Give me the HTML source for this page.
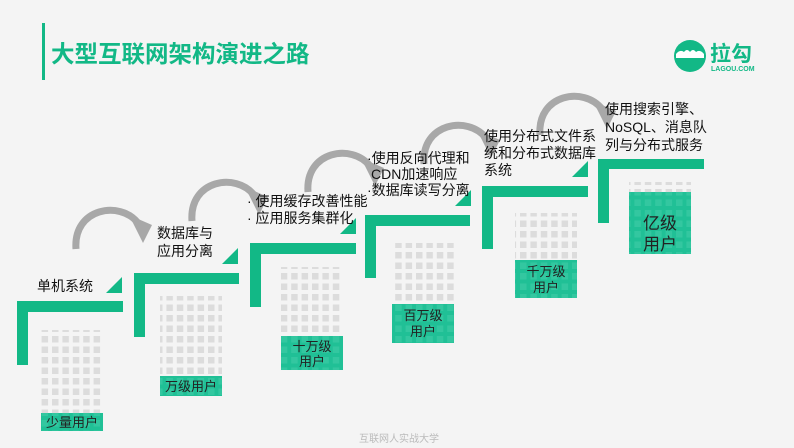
<!DOCTYPE html>
<html><head><meta charset="utf-8"><style>
html,body{margin:0;padding:0;background:#f4f4f4;}
svg{display:block;}
text{font-family:"Liberation Sans","Noto Sans CJK SC",sans-serif;}
</style></head><body>
<svg width="794" height="448" viewBox="0 0 794 448" xmlns="http://www.w3.org/2000/svg">
<defs>
<pattern id="g" x="0" y="0" width="10.4" height="10.5" patternUnits="userSpaceOnUse">
<rect x="0" y="0" width="6.5" height="6.5" fill="#dcdcdc"/>
</pattern>
<pattern id="gg" x="0" y="0" width="10.4" height="10.5" patternUnits="userSpaceOnUse">
<rect width="10.4" height="10.5" fill="#20c096"/>
<rect x="0" y="0" width="6.5" height="6.5" fill="#33c7a0"/>
</pattern>
<g id="arr">
<path d="M76,249 C73,208 120,200 138,223" fill="none" stroke="#a8a8a8" stroke-width="7"/>
<polygon points="129,215 152,225 143,243" fill="#a8a8a8"/>
</g>
</defs>
<rect width="794" height="448" fill="#f4f4f4"/>
<rect x="42" y="23" width="3" height="57" fill="#12b886"/>
<text x="51" y="62" font-size="23.5" font-weight="bold" fill="#12b886">大型互联网架构演进之路</text>
<circle cx="690" cy="56" r="16" fill="#12b886"/>
<path d="M676,54 Q680,49 684,52 Q687,48 690,52 Q693,48 696,52 Q700,49 704,54 L704,58 L676,58 Z" fill="#fff"/>
<text x="710" y="61" font-size="21" font-weight="bold" fill="#12b886">拉勾</text>
<text x="711" y="71" font-size="7" font-weight="bold" fill="#12b886">LAGOU.COM</text>

<use href="#arr"/>
<use href="#arr" transform="translate(116,-28)"/>
<use href="#arr" transform="translate(232,-57)"/>
<use href="#arr" transform="translate(348,-85)"/>
<use href="#arr" transform="translate(464,-114)"/>

<g fill="#12b886">
<rect x="17" y="301" width="106" height="11"/><rect x="17" y="301" width="11" height="64"/>
<rect x="134" y="273" width="105" height="11"/><rect x="134" y="273" width="11" height="64"/>
<rect x="250" y="243" width="106" height="11"/><rect x="250" y="243" width="11" height="64"/>
<rect x="365" y="215" width="105" height="11"/><rect x="365" y="215" width="11" height="63"/>
<rect x="482" y="186" width="106" height="11"/><rect x="482" y="186" width="11" height="63"/>
<rect x="598" y="159" width="106" height="10"/><rect x="598" y="159" width="11" height="64"/>
<polygon points="106,293 122,293 122,277"/>
<polygon points="222,264 238,264 238,248"/>
<polygon points="340,234 356,234 356,218"/>
<polygon points="455,206 471,206 471,190"/>
<polygon points="572,177 588,177 588,161"/>
</g>

<rect x="41" y="330" width="62" height="83" fill="url(#g)"/>
<rect x="41" y="413" width="62" height="18" fill="url(#gg)"/>
<rect x="160" y="296" width="62" height="80" fill="url(#g)"/>
<rect x="160" y="376" width="62" height="20" fill="url(#gg)"/>
<rect x="281" y="267" width="62" height="69" fill="url(#g)"/>
<rect x="281" y="336" width="62" height="34" fill="url(#gg)"/>
<rect x="392" y="243" width="62" height="61" fill="url(#g)"/>
<rect x="392" y="304" width="62" height="39" fill="url(#gg)"/>
<rect x="515" y="213" width="62" height="47" fill="url(#g)"/>
<rect x="515" y="260" width="62" height="38" fill="url(#gg)"/>
<rect x="629" y="182" width="62" height="10" fill="url(#g)"/>
<rect x="629" y="192" width="62" height="62" fill="url(#gg)"/>

<g fill="#222" font-size="13" text-anchor="middle">
<text x="72" y="427">少量用户</text>
<text x="191" y="391">万级用户</text>
<text x="312" y="351">十万级</text><text x="312" y="366">用户</text>
<text x="423" y="320">百万级</text><text x="423" y="336">用户</text>
<text x="546" y="276">千万级</text><text x="546" y="292">用户</text>
<text x="660" y="229" font-size="17">亿级</text><text x="660" y="250" font-size="17">用户</text>
</g>

<g fill="#111" font-size="14">
<text x="37" y="291">单机系统</text>
<text x="157" y="238">数据库与</text>
<text x="157" y="256">应用分离</text>
<text x="247" y="206">· 使用缓存改善性能</text>
<text x="247" y="223">· 应用服务集群化</text>
<text x="367" y="163">·使用反向代理和</text>
<text x="371" y="179">CDN加速响应</text>
<text x="367" y="195">·数据库读写分离</text>
<text x="484" y="141">使用分布式文件系</text>
<text x="484" y="158">统和分布式数据库</text>
<text x="484" y="175">系统</text>
<text x="605" y="114">使用搜索引擎、</text>
<text x="605" y="132">NoSQL、消息队</text>
<text x="605" y="150">列与分布式服务</text>
</g>

<text x="399" y="442" font-size="10" fill="#bbb" text-anchor="middle">互联网人实战大学</text>
</svg>
</body></html>
